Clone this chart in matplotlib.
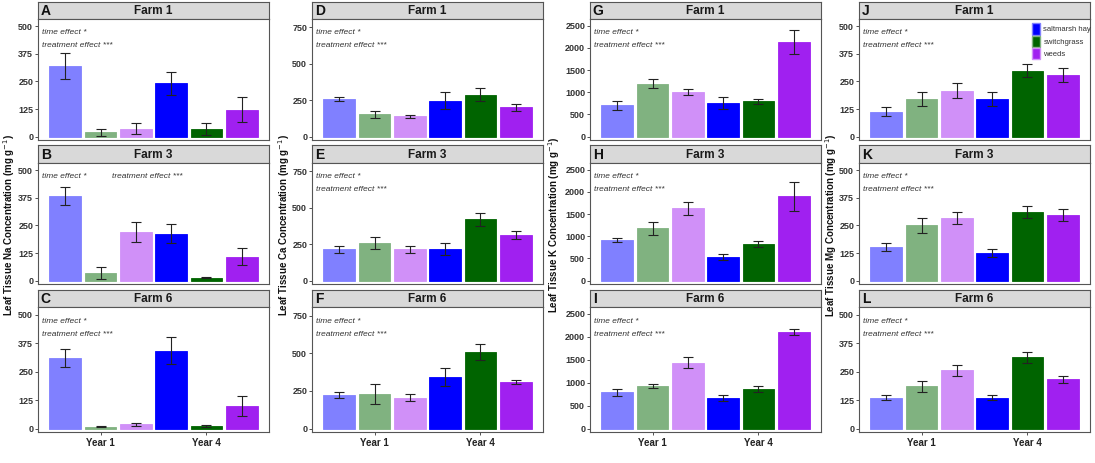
import matplotlib
matplotlib.use("Agg")
import matplotlib.pyplot as plt
from matplotlib.patches import Patch
import numpy as np

plt.rcParams['font.family'] = ['Liberation Sans', 'DejaVu Sans']

# ---------------- data ----------------
years = ["Year 1", "Year 4"]
species = ["saltmarsh hay", "switchgrass", "weeds"]
farms = ["Farm 1", "Farm 3", "Farm 6"]
minerals = ["Na", "Ca", "K", "Mg"]
panel_letters = [["A", "B", "C"], ["D", "E", "F"], ["G", "H", "I"], ["J", "K", "L"]]

# bar order: Y1 hay, Y1 switchgrass, Y1 weeds, Y4 hay, Y4 switchgrass, Y4 weeds
na_mean = [[320, 20, 37, 241, 34, 122],
           [383, 33, 220, 212, 14, 109],
           [309, 8, 18, 341, 11, 99]]
na_err = [[60, 15, 27, 54, 27, 56],
          [40, 27, 45, 43, 4, 37],
          [40, 3, 5, 60, 4, 46]]

ca_mean = [[258, 155, 139, 247, 289, 201],
           [216, 261, 214, 216, 420, 316],
           [221, 230, 205, 343, 508, 312]]
ca_err = [[12, 24, 8, 57, 42, 24],
          [25, 41, 27, 43, 46, 28],
          [20, 65, 25, 61, 52, 14]]

k_mean = [[705, 1197, 1000, 758, 795, 2144],
          [916, 1179, 1629, 526, 826, 1899],
          [788, 924, 1439, 659, 864, 2106]]
k_err = [[95, 95, 65, 133, 53, 270],
         [49, 143, 139, 68, 75, 323],
         [68, 46, 114, 65, 57, 65]]

mg_mean = [[114, 171, 209, 170, 298, 279],
           [152, 250, 283, 126, 311, 298],
           [136, 185, 255, 136, 312, 217]]
mg_err = [[19, 30, 32, 32, 29, 30],
          [18, 33, 28, 18, 27, 27],
          [10, 25, 23, 10, 24, 15]]

means = [na_mean, ca_mean, k_mean, mg_mean]
errs = [na_err, ca_err, k_err, mg_err]

yticks = [[0, 125, 250, 375, 500],
          [0, 250, 500, 750],
          [0, 500, 1000, 1500, 2000, 2500],
          [0, 125, 250, 375, 500]]
ylims = [(-15, 533), (-23, 808), (-76, 2652), (-15, 533)]

dark_cols = ["#0000FF", "#006400", "#A020F0"]
light_cols = ["#8080FF", "#80B280", "#D090F8"]

# ---------------- layout (pixels) ----------------
W, H = 1095, 463
fig = plt.figure(figsize=(W / 100, H / 100), dpi=100)

col_left = [38, 312, 590, 859]
label_x = [9, 284, 554, 831]
col_w = 231
plot_rows = [(19, 140), (163, 284), (307, 432)]
strip_rows = [(2, 19), (145, 163), (290, 307)]

def px_axes(x0, y0, x1, y1):
    return fig.add_axes([x0 / W, 1 - y1 / H, (x1 - x0) / W, (y1 - y0) / H])

edge = "#555555"
slot = 1.0 / 3
bw = 0.30
offsets = [-slot, 0, slot]

for c in range(4):
    for r in range(3):
        x0 = col_left[c]
        x1 = x0 + col_w
        # strip
        sx = px_axes(x0, strip_rows[r][0], x1, strip_rows[r][1])
        sx.set_facecolor("#D9D9D9")
        sx.set_xticks([]); sx.set_yticks([])
        for s in sx.spines.values():
            s.set_color(edge); s.set_linewidth(0.8)
        sx.text(0.5, 0.45, farms[r], ha="center", va="center", fontsize=8.5,
                fontweight="bold", color="#1a1a1a", transform=sx.transAxes)
        sx.text(0.012, 0.45, panel_letters[c][r], ha="left", va="center", fontsize=10,
                fontweight="bold", color="#111111", transform=sx.transAxes)

        ax = px_axes(x0, plot_rows[r][0], x1, plot_rows[r][1])
        m = means[c][r]
        e = errs[c][r]
        for g in range(2):
            for s_i in range(3):
                idx = g * 3 + s_i
                xpos = (g + 1) + offsets[s_i]
                col = light_cols[s_i] if g == 0 else dark_cols[s_i]
                ax.bar(xpos, m[idx], width=bw, color=col, edgecolor=col, linewidth=0.6)
                ax.errorbar(xpos, m[idx], yerr=e[idx], color="#222222", lw=0.8,
                            capsize=3.5, capthick=0.8)
        ax.set_xlim(0.41, 2.59)
        ax.set_ylim(*ylims[c])
        ax.set_yticks(yticks[c])
        ax.set_yticklabels([str(t) for t in yticks[c]], fontsize=6.5,
                           fontweight="bold", color="#333333")
        ax.tick_params(axis="y", length=2, width=0.6, color="#333333", pad=1.5)
        ax.set_xticks([1, 2])
        if r == 2:
            ax.set_xticklabels(years, fontsize=7, fontweight="bold", color="#222222")
            ax.tick_params(axis="x", length=2.5, width=0.6, color="#333333", pad=2)
        else:
            ax.set_xticklabels([])
            ax.tick_params(axis="x", length=0)
        for s in ax.spines.values():
            s.set_color(edge); s.set_linewidth(0.8)

        # annotations
        if c == 0 and r == 1:
            ax.text(0.017, 0.885, "time effect *", transform=ax.transAxes, fontsize=6,
                    style="italic", color="#333333", va="center")
            ax.text(0.32, 0.885, "treatment effect ***", transform=ax.transAxes,
                    fontsize=6, style="italic", color="#333333", va="center")
        else:
            ax.text(0.017, 0.885, "time effect *", transform=ax.transAxes, fontsize=6,
                    style="italic", color="#333333", va="center")
            ax.text(0.017, 0.78, "treatment effect ***", transform=ax.transAxes,
                    fontsize=6, style="italic", color="#333333", va="center")

        if c == 3 and r == 0:
            handles = [Patch(facecolor=dark_cols[i], edgecolor=light_cols[i], label=species[i])
                       for i in range(3)]
            ax.legend(handles=handles, loc="upper left", bbox_to_anchor=(0.73, 1.0),
                      frameon=False, fontsize=5.5, handlelength=1.1, handleheight=1.9,
                      handletextpad=0.4, labelspacing=0.15, borderaxespad=0.15,
                      labelcolor="#333333")

    # column y label
    fig.text(label_x[c] / W, 1 - 225 / H,
             f"Leaf Tissue {minerals[c]} Concentration (mg g$^{{-1}}$)",
             rotation=90, ha="center", va="center", fontsize=7, fontweight="bold",
             color="#111111")

fig.savefig("out.png", dpi=100, facecolor="white")
